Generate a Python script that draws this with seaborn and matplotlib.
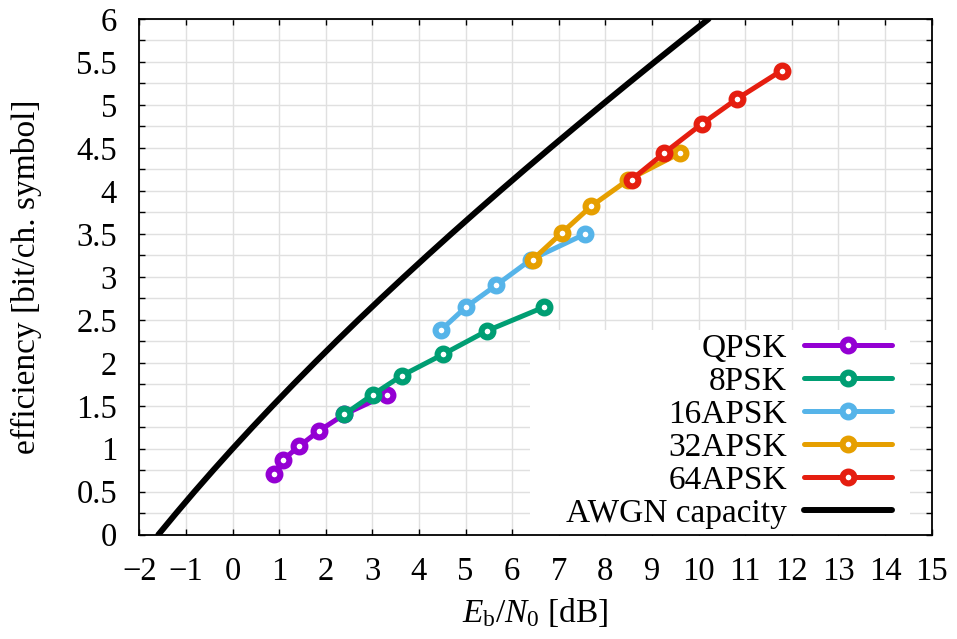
import numpy as np
import pandas as pd
import matplotlib
matplotlib.use("Agg")
import matplotlib.pyplot as plt
from matplotlib.patches import Rectangle
from matplotlib.ticker import MultipleLocator, FuncFormatter
import seaborn as sns

# ---- data ---------------------------------------------------------------
qpsk_ebn0 = [0.90, 1.08, 1.43, 1.86, 2.40, 3.31]
qpsk_eff = [0.71, 0.87, 1.03, 1.21, 1.40, 1.63]

psk8_ebn0 = [2.40, 3.01, 3.63, 4.52, 5.45, 6.69]
psk8_eff = [1.40, 1.63, 1.85, 2.10, 2.37, 2.65]

apsk16_ebn0 = [4.47, 5.01, 5.65, 6.40, 7.57]
apsk16_eff = [2.38, 2.65, 2.90, 3.20, 3.50]

apsk32_ebn0 = [6.44, 7.06, 7.69, 8.49, 9.60]
apsk32_eff = [3.20, 3.51, 3.82, 4.13, 4.44]

apsk64_ebn0 = [8.56, 9.26, 10.07, 10.82, 11.78]
apsk64_eff = [4.13, 4.44, 4.78, 5.07, 5.40]

# AWGN capacity (Shannon bound), tabulated
cap_eff = [0.0, 0.25, 0.5, 0.75, 1.0, 1.25, 1.5, 1.75, 2.0, 2.25, 2.5, 2.75,
           3.0, 3.25, 3.5, 3.75, 4.0, 4.25, 4.5, 4.75, 5.0, 5.25, 5.5, 5.75, 6.0]
cap_ebn0 = [-1.592, -1.210, -0.818, -0.414, 0.000, 0.425, 0.860, 1.305, 1.761,
            2.226, 2.701, 3.186, 3.680, 4.182, 4.693, 5.213, 5.740, 6.275,
            6.818, 7.368, 7.924, 8.487, 9.056, 9.631, 10.212]

series = [
    ("QPSK", qpsk_ebn0, qpsk_eff, "#9400D3"),
    ("8PSK", psk8_ebn0, psk8_eff, "#009E73"),
    ("16APSK", apsk16_ebn0, apsk16_eff, "#56B4E9"),
    ("32APSK", apsk32_ebn0, apsk32_eff, "#E69F00"),
    ("64APSK", apsk64_ebn0, apsk64_eff, "#E51E10"),
]

x_ticks = list(range(-2, 16))

# ---- style --------------------------------------------------------------
sns.set_style("white")
plt.rcParams["font.family"] = ["Liberation Serif", "DejaVu Serif"]
plt.rcParams["mathtext.fontset"] = "custom"
plt.rcParams["mathtext.rm"] = "Liberation Serif"
plt.rcParams["mathtext.it"] = "Liberation Serif:italic"
plt.rcParams["axes.unicode_minus"] = True
for key in ("text.color", "axes.labelcolor", "xtick.color", "ytick.color"):
    plt.rcParams[key] = "black"

FS = 24
TICK_FS = 23.5

fig = plt.figure(figsize=(9.57, 6.39), dpi=100)
ax = fig.add_axes([139.3 / 957, 1 - 534.7 / 639, (931.7 - 139.3) / 957, (534.7 - 19) / 639])

for name, xs, ys, col in series:
    df = pd.DataFrame({"ebn0": xs, "eff": ys})
    sns.lineplot(data=df, x="ebn0", y="eff", sort=False, ax=ax, color=col,
                 lw=3.6, marker="o", ms=8.5, mfc="white", mec=col, mew=4.4,
                 label=name, zorder=3)

cap_df = pd.DataFrame({"ebn0": cap_ebn0, "eff": cap_eff})
sns.lineplot(data=cap_df, x="ebn0", y="eff", sort=False, ax=ax, color="black",
             lw=4.3, label="AWGN capacity", zorder=3)

# ---- axes ---------------------------------------------------------------
ax.set_xlim(-2, 15)
ax.set_ylim(0, 6)
ax.set_xticks(x_ticks)
ax.yaxis.set_major_locator(MultipleLocator(0.5))
ax.yaxis.set_minor_locator(MultipleLocator(0.25))


def fmt(v, _pos):
    return "{:g}".format(v).replace("-", "\u2212")


ax.xaxis.set_major_formatter(FuncFormatter(fmt))
ax.yaxis.set_major_formatter(FuncFormatter(fmt))

ax.tick_params(which="both", direction="in", length=4, width=1.0,
               top=True, right=True, bottom=True, left=True,
               labelsize=TICK_FS, pad=16, color="black", labelcolor="black")
ax.tick_params(which="minor", length=4)

ax.grid(True, which="major", axis="x", color="#e0e0e0", lw=1.0)
ax.grid(True, which="both", axis="y", color="#e0e0e0", lw=1.0)
ax.set_axisbelow(True)

for sp in ax.spines.values():
    sp.set_color("black")
    sp.set_linewidth(1.3)
    sp.set_visible(True)

ax.set_xlabel(r"$E_\mathrm{b}/N_0$ [dB]", fontsize=FS, color="black")
ax.set_ylabel("efficiency [bit/ch. symbol]", fontsize=FS, color="black")
ax.xaxis.set_label_coords(0.5, -0.118)
ax.yaxis.set_label_coords(-0.123, 0.5)

# ---- legend: white key area, right-aligned labels, sample on the right ---
ax.add_patch(Rectangle((0.493, 0.0), 0.48, 0.397, transform=ax.transAxes,
                       facecolor="white", edgecolor="none", zorder=2))

handles, labels = ax.get_legend_handles_labels()
if ax.get_legend() is not None:
    ax.get_legend().remove()
leg = ax.legend(handles, labels, loc="lower right",
                bbox_to_anchor=(0.950, 0.011), borderaxespad=0.0,
                markerfirst=False, fontsize=FS, frameon=False,
                handlelength=2.65, handletextpad=0.5,
                labelspacing=0.075, borderpad=0.0)
leg.set_zorder(5)

fig.savefig("out.png", dpi=100, facecolor="white")
